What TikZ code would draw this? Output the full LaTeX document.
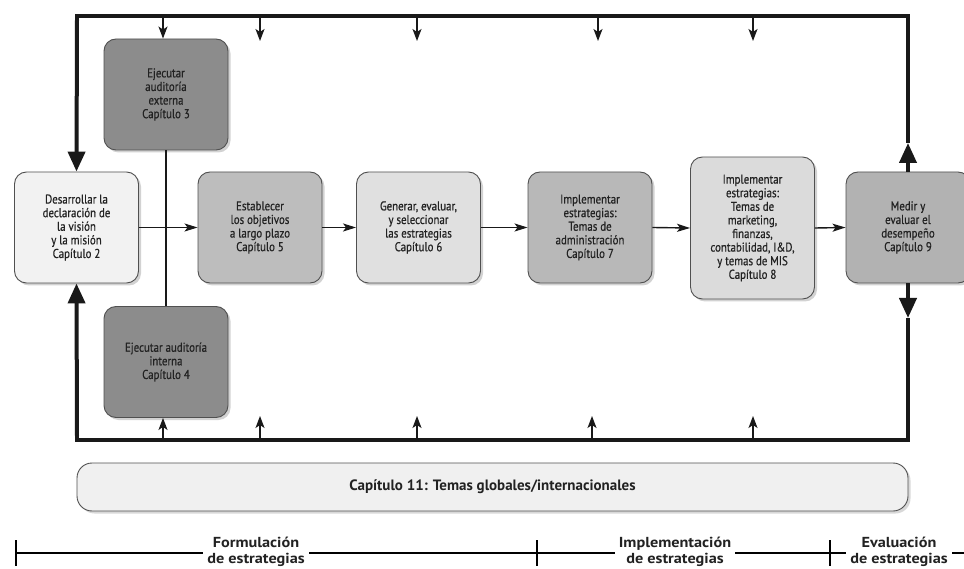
\documentclass[tikz,border=0pt]{standalone}
\usepackage{fontspec}
\setmainfont{PT Sans}
\newfontfamily\boxfont{PT Sans}[FakeStretch=0.85, FakeBold=0.6]
\newfontfamily\capfont{PT Sans}[FakeStretch=1.0]
\newfontfamily\phasefont{PT Sans}[FakeStretch=1.12]
\usetikzlibrary{arrows.meta,shadows}
\definecolor{txt}{HTML}{222222}
\definecolor{edge}{HTML}{505050}
\tikzset{
  box/.style={draw=edge, line width=0.9pt, rounded corners=12pt, align=center,
    inner sep=2pt, text=txt, font=\boxfont\fontsize{12.8}{13.6}\selectfont,
    minimum width=124pt, minimum height=111pt,
    drop shadow={shadow xshift=2.5pt, shadow yshift=-2.5pt, opacity=0.35, fill=gray}},
  loopline/.style={line width=4pt, draw=black!90},
  bigarrow/.style={loopline, -{Triangle[length=20pt,width=17pt]}},
  thin/.style={line width=1.4pt, draw=black!90},
  thinarrow/.style={thin, -{Stealth[length=13pt,width=8pt,inset=3pt]}},
  tickarrow/.style={thin, -{Stealth[length=12pt,width=9pt,inset=3pt]}},
  phase/.style={fill=white, inner xsep=4pt, inner ysep=0pt, align=center, text=txt,
    font=\phasefont\bfseries\fontsize{14.5}{16}\selectfont},
}
\begin{document}
\begin{tikzpicture}[x=1pt,y=-1pt]
\useasboundingbox (0,0) rectangle (964,569);
\fill[white] (0,0) rectangle (964,569);

% boxes
\node[box, fill=black!5] (des) at (76.5,227.5) {Desarrollar la\\declaración de\\la visión\\y la misión\\Capítulo 2};
\node[box, fill=black!45] (ext) at (166,94.5) {Ejecutar\\auditoría\\externa\\Capítulo 3};
\node[box, fill=black!45] (int) at (166,362) {Ejecutar auditoría\\interna\\Capítulo 4};
\node[box, fill=black!26] (est) at (260,227.5) {Establecer\\los objetivos\\a largo plazo\\Capítulo 5};
\node[box, fill=black!12] (gen) at (418.5,227.5) {Generar, evaluar,\\y seleccionar\\las estrategias\\Capítulo 6};
\node[box, fill=black!28] (im7) at (590,227.5) {Implementar\\estrategias:\\Temas de\\administración\\Capítulo 7};
\node[box, fill=black!14, minimum height=142pt] (im8) at (752.5,228) {Implementar\\estrategias:\\Temas de\\marketing,\\finanzas,\\contabilidad, I\&D,\\y temas de MIS\\Capítulo 8};
\node[box, fill=black!30] (med) at (908,227.5) {Medir y\\evaluar el\\desempeño\\Capítulo 9};

% loop corners
\coordinate (TL) at (77,16);
\coordinate (TR) at (908,16);
\coordinate (BL) at (77,440);
\coordinate (BR) at (908,440);
\coordinate (mu) at (908,143);
\coordinate (md) at (908,318);

% thick loop
\draw[loopline, line join=miter] (mu) -- (TR) -- (TL) -- ++(0,10);
\draw[bigarrow] (77,20) -- (des.north);
\draw[loopline, line join=miter] (md) -- (BR) -- (BL) -- ++(0,-10);
\draw[bigarrow] (77,436) -- (des.south);
\draw[bigarrow] (med.north) -- (mu);
\draw[bigarrow] (med.south) -- (md);

% small feedback arrows
\foreach \x/\n in {260/a,417/b,598/c,753/d}{
  \coordinate (t\n) at (\x,18);
  \coordinate (te\n) at (\x,41);
  \draw[tickarrow] (t\n) -- (te\n);
}
\foreach \x/\n in {260/a,417/b,592/c,753/d}{
  \coordinate (b\n) at (\x,438);
  \coordinate (be\n) at (\x,416);
  \draw[tickarrow] (b\n) -- (be\n);
}
\coordinate (t0) at (163,18);
\coordinate (b0) at (163,438);
\draw[tickarrow] (t0) -- (t0 |- ext.north);
\draw[tickarrow] (b0) -- (b0 |- int.south);

% vertical between audits
\draw[thin] (ext.south) -- (int.north);

% main flow
\draw[thinarrow] (des.east) -- (est.west);
\draw[thinarrow] (est.east) -- (gen.west);
\draw[thinarrow] (gen.east) -- (im7.west);
\draw[thinarrow] (im7.east) -- (im8.west);
\draw[thinarrow] (im8.east) -- (med.west);

% chapter 11
\node[draw=edge, line width=0.9pt, rounded corners=15pt, fill=black!6,
  minimum width=831pt, minimum height=48pt, text=txt,
  font=\capfont\bfseries\fontsize{15}{17}\selectfont,
  drop shadow={shadow xshift=2.5pt, shadow yshift=-2.5pt, opacity=0.3, fill=gray}]
  (c11) at (492.5,487) {Capítulo 11: Temas globales/internacionales};

% timeline
\coordinate (k0) at (16,553);
\coordinate (k1) at (537,553);
\coordinate (k2) at (830,553);
\coordinate (k3) at (975,553);
\draw[line width=1.2pt] (k0) -- (k3);
\foreach \k in {k0,k1,k2}{
  \draw[line width=1.6pt] (\k) ++(0,-13) -- ++(0,26);
}
\node[phase] (pf) at (256,552) {Formulación\\de estrategias};
\node[phase] (pi) at (675,552) {Implementación\\de estrategias};
\node[phase] (pe) at (899,552) {Evaluación\\de estrategias};
\end{tikzpicture}
\end{document}
